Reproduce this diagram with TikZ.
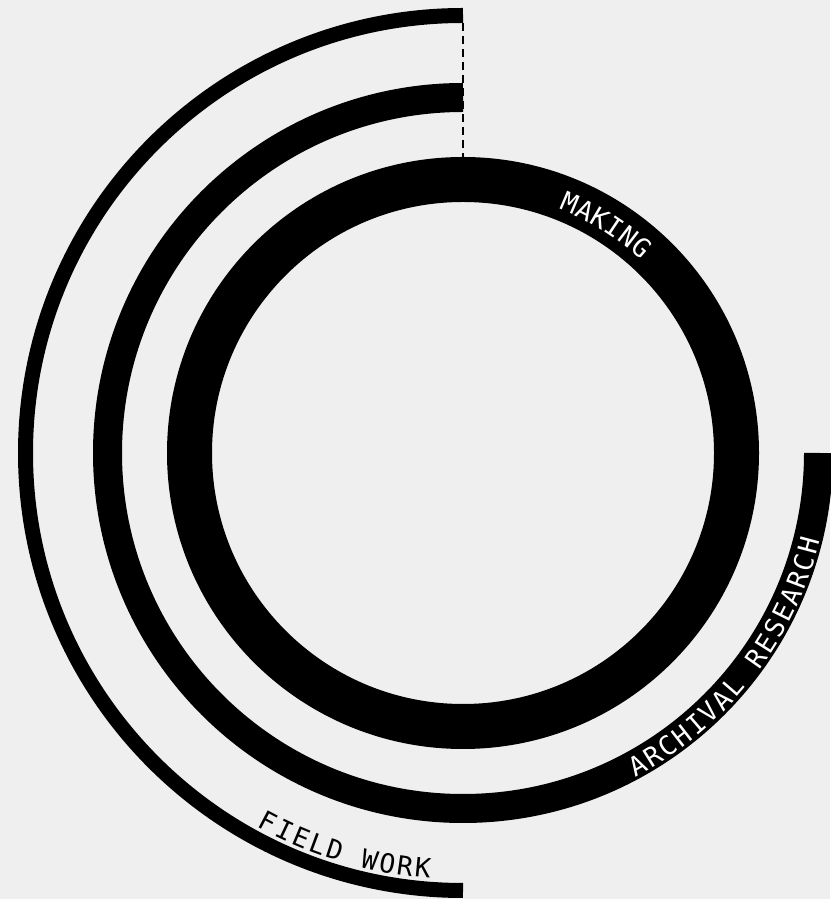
\documentclass[tikz,border=0pt]{standalone}
\usepackage{fontspec}
\setmonofont{DejaVu Sans Mono}
\definecolor{bgcol}{RGB}{239,239,239}
\begin{document}
\begin{tikzpicture}[x=1pt,y=1pt,
  ring/.style={draw=black, line cap=butt},
  letter/.style={inner sep=0pt, font=\ttfamily\fontsize{26.5}{26.5}\selectfont,
    text height=19.3pt, text depth=0pt, anchor=center},
  guide/.style={draw=black, line width=1.1pt, dash pattern=on 8pt off 5pt}]
\fill[bgcol] (0,0) rectangle (830,899);
\useasboundingbox (0,0) rectangle (830,899);
\coordinate (dtop) at (463,876);
\coordinate (dbot) at (463,742);
% outer arc: field work
\draw[ring, line width=15pt] (463,883.5) arc[start angle=90, end angle=270, radius=437.5];
% middle arc: archival research
\draw[ring, line width=29pt] (463,801.5) arc[start angle=90, end angle=360, radius=355.5];
% inner ring: making
\draw[ring, line width=45pt] (463,446) circle[radius=273.5];
% dashed guide
\draw[guide] (dtop) -- (dbot);
\begin{scope}[shift={(463,446)}]
  \foreach \ch [count=\i from 0] in {M,A,K,I,N,G}
    \node[letter, text=white, rotate={66.9-3.58*\i-90}] (mk\i) at ({66.9-3.58*\i}:272) {\ch};
  \foreach \ch [count=\i from 0] in {A,R,C,H,I,V,A,L}
    \node[letter, text=white, rotate={-60.8+2.8625*\i+90}] (ar\i) at ({-60.8+2.8625*\i}:357.5) {\ch};
  \foreach \ch [count=\i from 9] in {R,E,S,E,A,R,C,H}
    \node[letter, text=white, rotate={-60.8+2.8625*\i+90}] (re\i) at ({-60.8+2.8625*\i}:357.5) {\ch};
  \foreach \ch [count=\i from 0] in {F,I,E,L,D}
    \node[letter, text=black, rotate={242.2+2.478*\i+90}] (fi\i) at ({242.2+2.478*\i}:417) {\ch};
  \foreach \ch [count=\i from 6] in {W,O,R,K}
    \node[letter, text=black, rotate={242.2+2.478*\i+90}] (wo\i) at ({242.2+2.478*\i}:417) {\ch};
\end{scope}
\end{tikzpicture}
\end{document}
